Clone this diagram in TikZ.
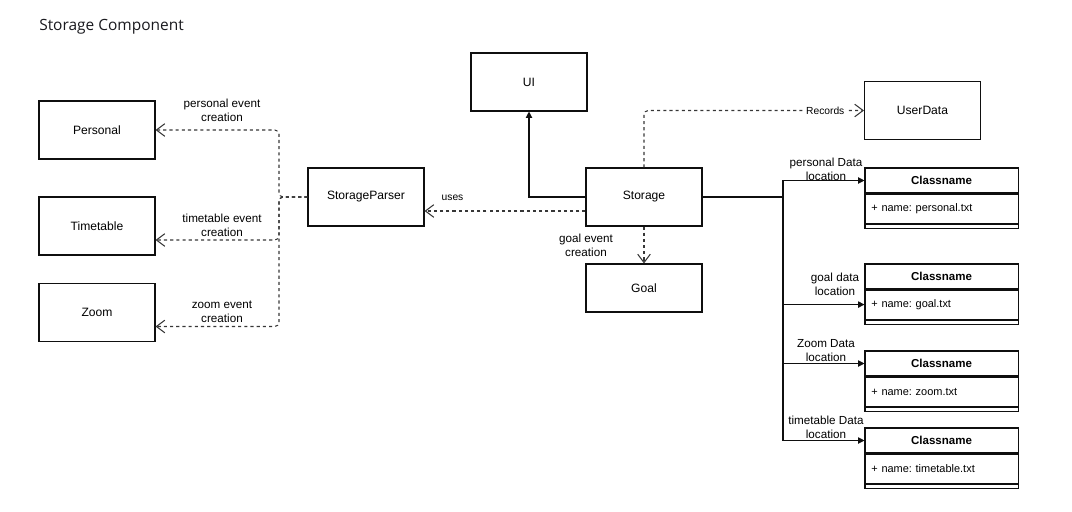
\documentclass[tikz,border=0pt]{standalone}
\usepackage{fontspec}
\setmainfont{Liberation Sans}
\newfontfamily\headfont{Open Sans}
\usepackage{tikz}
\usetikzlibrary{positioning, arrows.meta}
\definecolor{SCInk}{RGB}{15,15,15}
\definecolor{SCLine}{RGB}{55,55,55}
\definecolor{SCTitle}{RGB}{25,25,30}

\tikzset{
  comp/.style={draw=SCInk, line width=0.75pt, minimum width=2.9cm,
               minimum height=1.45cm, font=\fontsize{8.6}{10}\selectfont},
  lbl/.style={font=\fontsize{8.3}{10}\selectfont, align=center, inner sep=1pt},
  smalllbl/.style={font=\fontsize{7.3}{9}\selectfont, inner sep=1pt},
  dep/.style={draw=SCLine, line width=0.75pt, dash pattern=on 2.2pt off 2.2pt,
              rounded corners=3pt, -{Straight Barb[length=6pt,width=9pt]}},
  assoc/.style={draw=SCInk, line width=0.75pt,
                -{Triangle[length=4.5pt,width=4.5pt]}},
  clshead/.style={draw=SCInk, line width=0.75pt, minimum width=3.825cm,
                  minimum height=0.625cm, font=\fontsize{8.2}{10}\selectfont\bfseries},
  clsattr/.style={draw=SCInk, line width=0.75pt, minimum width=3.825cm,
                  minimum height=0.725cm, text width=3.5cm, align=left,
                  font=\fontsize{7.8}{10}\selectfont\frenchspacing},
  clsfoot/.style={draw=SCInk, line width=0.75pt, minimum width=3.825cm,
                  minimum height=0.1cm, inner sep=0pt}
}

\begin{document}
\begin{tikzpicture}[x=0.025cm, y=-0.025cm]
  \useasboundingbox (0,0) rectangle (1072,512);

  % Title
  \node[font=\headfont\fontsize{11}{13}\selectfont, text=SCTitle,
        anchor=west, inner sep=0pt] (title) at (39,27) {Storage Component};

  % Event boxes on the left
  \node[comp] (personal) at (97,130) {Personal};
  \node[comp] (timetable) at (97,226) {Timetable};
  \node[comp] (zoom) at (97,312.5) {Zoom};

  % Middle components
  \node[comp] (parser) at (366,197) {StorageParser};
  \node[comp] (ui) at (529,82) {UI};
  \node[comp] (storage) at (644,197) {Storage};
  \node[comp, minimum height=1.2cm] (goal) at (644,288) {Goal};
  \node[comp] (userdata) at (922.5,110.5) {UserData};

  % Data files (class boxes)
  \node[clshead] (phead) at (941.5,180.5) {Classname};
  \node[clsattr, below=0pt of phead] (pattr) {+ name: personal.txt};
  \node[clsfoot, below=0pt of pattr] (pfoot) {};

  \node[clshead] (ghead) at (941.5,276.5) {Classname};
  \node[clsattr, below=0pt of ghead] (gattr) {+ name: goal.txt};
  \node[clsfoot, below=0pt of gattr] (gfoot) {};

  \node[clshead] (zhead) at (941.5,363.5) {Classname};
  \node[clsattr, below=0pt of zhead] (zattr) {+ name: zoom.txt};
  \node[clsfoot, below=0pt of zattr] (zfoot) {};

  \node[clshead] (thead) at (941.5,440.5) {Classname};
  \node[clsattr, below=0pt of thead] (tattr) {+ name: timetable.txt};
  \node[clsfoot, below=0pt of tattr] (tfoot) {};

  % Parser creates the events
  \coordinate (fork) at (279,197);
  \draw[dep] (parser.west) -- (fork) |- (personal.east);
  \draw[dep] (parser.west) -- (fork) |- ([yshift=-0.35cm]timetable.east);
  \draw[dep] (parser.west) -- (fork) |- ([yshift=-0.35cm]zoom.east);
  \node[lbl] (lpersonal) at (222,110) {personal event\\creation};
  \node[lbl] (ltimetable) at (222,225.5) {timetable event\\creation};
  \node[lbl] (lzoom) at (222,312) {zoom event\\creation};

  % Storage links
  \draw[assoc] (storage.west) -| (ui.south);
  \draw[dep] ([yshift=-0.35cm]storage.west) -- ([yshift=-0.35cm]parser.east);
  \node[smalllbl] (luses) at (452.5,198) {uses};
  \draw[dep] (storage.north) |- (userdata.west)
        node[smalllbl, fill=white, pos=0.912] (lrecords) {Records};
  \draw[dep] (storage.south) -- (goal.north);
  \node[lbl] (lgoal) at (586,245) {goal event\\creation};

  % Storage to the data files
  \coordinate (bus) at (783,197);
  \draw[assoc] (storage.east) -- (bus) |- (phead.west);
  \draw[assoc] (bus) |- (gattr.west);
  \draw[assoc] (bus) |- (zhead.west);
  \draw[assoc] (bus) |- (thead.west);
  \node[lbl] (lpdata) at (826,169) {personal Data\\location};
  \node[lbl] (lgdata) at (835,284) {goal data\\location};
  \node[lbl] (lzdata) at (826,351) {Zoom Data\\location};
  \node[lbl] (ltdata) at (826,427) {timetable Data\\location};
\end{tikzpicture}
\end{document}
